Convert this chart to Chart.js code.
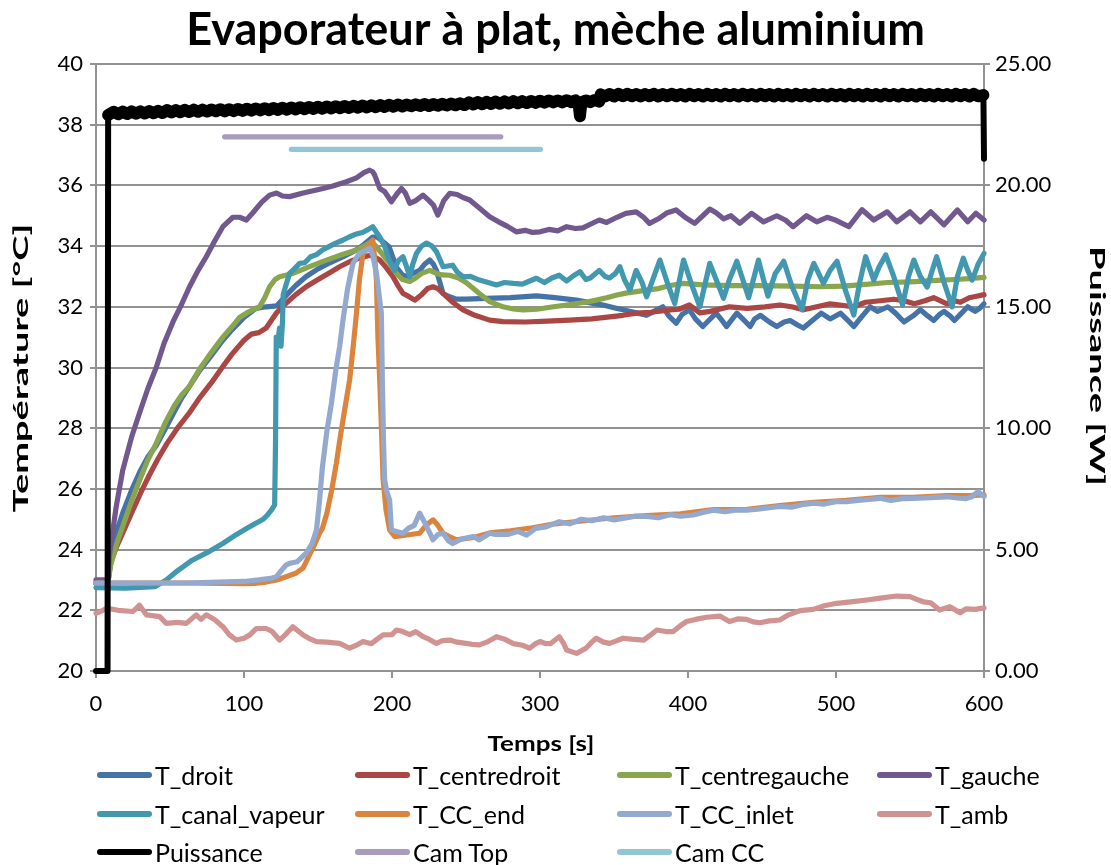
<!DOCTYPE html>
<html>
<head>
<meta charset="utf-8">
<script src="https://cdn.jsdelivr.net/npm/chart.js@4.4.0/dist/chart.umd.min.js"></script>
<style>
  body { margin: 0; background: #fff; }
  #wrap { position: relative; width: 1111px; height: 865px; }
  #legend { position: absolute; left: 97px; top: 756px; display: grid;
    grid-template-columns: 258px 262px 260px 200px; grid-auto-rows: 38.5px;
    font-family: Lato, sans-serif; font-size: 25px; color: #000; }
  .item { display: flex; align-items: center; }
  .swatch { width: 55px; height: 6px; border-radius: 3px; margin-right: 3px; }
</style>
</head>
<body>
<div id="wrap">
  <canvas id="myChart" width="1111" height="865"></canvas>
  <div id="legend"></div>
</div>
<script>
// values, [time s, value]
const T_droit = [[0,22.9],[8,22.9],[10,23.9],[14,24.6],[18,25.2],[24,25.95],[30,26.6],[35,27.05],[41,27.45],[47,28.0],[53,28.55],[58,29.0],[63,29.37],[70,29.9],[78,30.4],[85.7,30.9],[92,31.25],[100,31.65],[108,31.95],[115,32.0],[122,32.03],[128,32.35],[135,32.7],[142,33.0],[150,33.25],[158,33.45],[167,33.65],[175,33.85],[181,34.05],[187,34.3],[190,34.3],[195,34.1],[198,33.98],[203,33.3],[207,33.05],[210,32.99],[214,33.1],[218.7,33.2],[222,33.4],[225.5,33.54],[228,33.4],[230,33.2],[234.5,32.44],[238,32.35],[243.5,32.25],[250,32.25],[263.8,32.28],[280,32.3],[297.6,32.36],[310,32.3],[324.7,32.22],[335,32.12],[342.7,32.06],[350,31.97],[356,31.9],[365,31.8],[372,31.72],[377,31.85],[383,32.0],[387,31.7],[392,31.46],[396,31.75],[401,31.9],[405,31.6],[410,31.35],[414,31.55],[419,31.79],[423,31.55],[426,31.35],[430,31.6],[433,31.79],[438,31.55],[442,31.35],[445,31.6],[449,31.72],[455,31.5],[460,31.35],[465,31.5],[469,31.55],[474,31.4],[478,31.3],[484,31.55],[490,31.79],[496,31.6],[503,31.79],[508,31.55],[512,31.35],[517,31.65],[523,32.0],[528,31.85],[535,32.0],[540,31.8],[546,31.5],[552,31.7],[557,31.9],[562,31.7],[566,31.55],[570,31.75],[573,31.85],[577,31.7],[580,31.55],[585,31.8],[589,32.0],[594,31.85],[597,31.95],[600,32.1]];

const T_centredroit = [[0,22.9],[8,22.9],[10,23.6],[14,24.1],[18,24.54],[24,25.2],[30,25.85],[36,26.45],[42,27.0],[48,27.5],[55,28.0],[63,28.5],[70,29.0],[78,29.5],[85.7,30.03],[92,30.45],[100,30.9],[105,31.1],[110,31.15],[115,31.3],[121.8,31.79],[128,32.1],[135,32.4],[142,32.66],[150,32.9],[157,33.1],[164.6,33.32],[172,33.5],[179,33.62],[185,33.7],[188,33.65],[191.7,33.54],[196,33.3],[200.7,32.99],[204,32.7],[207.4,32.44],[211,32.35],[215.4,32.22],[220,32.4],[224,32.6],[227.7,32.66],[231,32.6],[234.5,32.44],[241,32.15],[248,31.9],[256,31.72],[266,31.56],[275,31.51],[290,31.5],[305,31.53],[320,31.56],[335,31.6],[347,31.67],[356,31.72],[365,31.79],[375,31.82],[388,31.9],[394,31.92],[401,32.06],[408,31.8],[415,31.85],[428,32.0],[440,31.95],[452,32.0],[462,32.06],[470,32.0],[478,31.9],[487,32.0],[496,32.1],[504,32.05],[512,32.0],[520,32.15],[530,32.2],[539,32.25],[546,32.2],[553,32.1],[560,32.2],[566,32.3],[575,32.1],[580,32.2],[584,32.15],[590,32.3],[595,32.35],[600,32.4]];

const T_centregauche = [[0,22.9],[8,22.9],[10,23.5],[14,24.2],[18,24.76],[24,25.6],[30,26.35],[35,26.95],[40.7,27.5],[47,28.2],[53,28.75],[58,29.1],[63,29.37],[70,29.95],[78,30.5],[85.7,31.0],[92,31.35],[97,31.65],[101.6,31.79],[106,31.9],[110.5,32.0],[114,32.3],[117.3,32.66],[121,32.9],[124,32.99],[133,33.1],[143,33.3],[153,33.49],[165,33.7],[176,33.87],[183,34.05],[186,34.15],[190,33.95],[194,33.7],[198.4,33.43],[203,33.1],[207,32.9],[212,32.83],[216,32.95],[220,33.1],[225.5,33.2],[230,33.1],[234,33.05],[239,33.04],[245,32.95],[250,32.8],[254.8,32.61],[259,32.44],[266,32.17],[275,32.0],[282,31.93],[288.6,31.9],[298,31.92],[309,32.0],[317,32.05],[324.7,32.11],[331,32.15],[338,32.22],[345,32.3],[352,32.39],[358,32.45],[365,32.5],[372,32.55],[380,32.6],[388,32.7],[397,32.77],[410,32.72],[430,32.7],[450,32.7],[470,32.68],[490,32.66],[505,32.68],[520,32.74],[535,32.8],[550,32.82],[565,32.86],[580,32.9],[590,32.93],[600,32.97]];

const T_gauche = [[0,23.0],[8,23.0],[9,23.8],[13.6,25.4],[18,26.6],[24,27.7],[29.4,28.5],[35,29.3],[40.7,30.0],[46,30.8],[52,31.5],[58,32.1],[63.2,32.66],[69,33.2],[74.5,33.65],[80,34.15],[85.7,34.64],[92.5,34.95],[97,34.95],[101.6,34.86],[106,35.1],[112,35.45],[117.3,35.68],[122,35.75],[126,35.65],[130.8,35.63],[140,35.75],[153.4,35.9],[160,35.98],[169.2,36.12],[176,36.25],[181,36.42],[184.9,36.5],[187,36.45],[188.3,36.34],[191.7,35.9],[195,35.8],[199.6,35.46],[203,35.7],[206.4,35.9],[209,35.75],[212,35.41],[216,35.5],[221,35.68],[225,35.5],[228,35.35],[231,35.02],[235,35.5],[239,35.74],[244,35.7],[248,35.6],[252.5,35.52],[258,35.3],[266,34.97],[272,34.8],[278,34.65],[284,34.47],[290,34.52],[295,34.45],[300,34.47],[306,34.55],[312,34.5],[318,34.64],[324,34.58],[329,34.6],[334,34.72],[340,34.86],[345,34.78],[352,34.95],[358,35.08],[365,35.13],[370,34.95],[374,34.75],[380,34.9],[386,35.1],[392,35.19],[398,34.95],[404.5,34.75],[410,35.0],[414.7,35.22],[419,35.1],[424,34.9],[429,35.0],[435,34.75],[443,35.08],[451,34.8],[460,35.0],[466,34.85],[471,34.64],[480,35.0],[487,34.8],[494,34.95],[500,34.85],[508.7,34.64],[517.6,35.2],[525.5,34.86],[534.6,35.13],[541,34.8],[550,35.13],[557,34.8],[564,35.13],[573,34.7],[582,35.19],[589,34.8],[594.5,35.08],[600,34.86]];

const T_canal_vapeur = [[0,22.75],[20,22.73],[40,22.78],[47.5,23.0],[55,23.3],[65,23.65],[75,23.9],[85.7,24.2],[95,24.5],[102,24.7],[108,24.87],[113,25.0],[116,25.15],[118.5,25.3],[120.7,25.47],[121.3,27.5],[121.8,31.0],[123,30.9],[124,31.3],[125,30.7],[126,31.5],[126.5,32.4],[128,32.66],[130.8,33.1],[134,33.25],[137.6,33.43],[141,33.45],[145,33.65],[149,33.72],[153,33.87],[158,34.0],[162,34.1],[167,34.2],[171,34.3],[176,34.4],[180,34.45],[184,34.55],[187,34.64],[191.7,34.3],[195,34.0],[198,33.55],[201.8,33.2],[204,33.5],[207.4,33.65],[210,33.3],[212,32.99],[214,33.4],[216.5,33.76],[220,34.0],[223.3,34.1],[227,34.0],[230,33.82],[234.5,33.32],[241,33.37],[244,33.15],[248,32.99],[253,33.0],[259,32.88],[265,32.8],[270.6,32.72],[276,32.8],[282,32.77],[288,32.75],[293,32.85],[297.6,32.94],[303,32.8],[308,32.95],[313,33.04],[318,32.85],[322,33.0],[327,33.16],[331,32.9],[334,32.95],[340,33.2],[344,33.0],[347,32.95],[351,33.1],[354,33.32],[357,32.9],[360.7,32.55],[365,33.2],[369,32.8],[372,32.33],[377,33.0],[381,33.54],[386,32.8],[391,32.11],[397,33.54],[402,32.8],[408,32.0],[414.7,33.43],[419,32.9],[424,32.28],[428,32.9],[433,33.5],[437,32.9],[441,32.3],[447.6,33.54],[451,32.9],[454,32.35],[459,33.1],[464.7,33.5],[470,32.7],[477,31.9],[481,32.9],[485,33.43],[491.5,32.77],[496,33.2],[500.7,33.5],[506,32.6],[512,31.73],[516,32.8],[520,33.65],[525.5,32.88],[529,33.3],[533.6,33.71],[539,33.0],[545,32.06],[549,33.0],[552.6,33.54],[557,33.0],[561.6,32.65],[565,33.2],[568,33.65],[573,32.8],[578.5,32.0],[582,33.0],[586,33.6],[589,33.2],[592,32.88],[596,33.4],[600,33.76]];

const T_CC_end = [[0,22.9],[60,22.9],[100,22.88],[108,22.89],[115,22.93],[122,23.0],[128,23.1],[135,23.22],[140,23.4],[144,23.8],[148,24.2],[151,24.54],[153,24.7],[156,25.2],[159,25.9],[162.4,26.84],[165,27.7],[168,28.6],[171.4,29.6],[174,30.8],[176,31.79],[178,32.9],[180.4,33.76],[184,34.0],[187,34.2],[188.5,33.5],[189.5,32.88],[190.5,31.0],[191.7,29.6],[193,27.8],[194,26.3],[196,25.3],[198.4,24.65],[201.8,24.43],[210,24.48],[218.7,24.54],[223,24.8],[227.7,24.98],[231,24.8],[234.5,24.54],[240,24.4],[243.5,24.32],[255,24.4],[266,24.55],[280,24.62],[295,24.72],[310,24.85],[330,24.95],[350,25.05],[372,25.12],[395,25.18],[417,25.32],[440,25.33],[462,25.45],[485,25.56],[507,25.62],[530,25.72],[552,25.72],[575,25.78],[590,25.78],[600,25.8]];

const T_CC_inlet = [[0,22.9],[60,22.9],[100,22.95],[110,23.0],[118,23.05],[122,23.11],[125,23.3],[128.6,23.5],[131,23.55],[136,23.6],[142,23.88],[146,24.2],[149,24.65],[151,25.6],[153,26.73],[156,27.9],[159,28.8],[162,29.9],[164.6,30.68],[167,31.6],[170,32.6],[173.6,33.43],[178,33.76],[182,33.85],[185,33.93],[187,33.7],[189.5,33.1],[191,32.5],[192.8,31.79],[193.5,29.5],[194.3,27.5],[195,26.3],[196.5,25.9],[198.4,25.63],[199.6,24.65],[203,24.6],[207.4,24.54],[211,24.7],[215,24.8],[218.7,25.2],[222,24.9],[225,24.6],[227.7,24.32],[231,24.5],[234.5,24.54],[238,24.3],[241,24.2],[247,24.35],[254.8,24.43],[259,24.32],[266,24.54],[270,24.5],[278,24.5],[285,24.6],[291,24.48],[297,24.7],[304,24.75],[313,24.92],[320,24.85],[328,25.0],[335,24.95],[343,25.05],[350,24.98],[356,25.03],[364,25.1],[372,25.09],[380,25.05],[388,25.15],[395,25.1],[403.5,25.14],[410,25.22],[417,25.3],[425,25.25],[432,25.3],[439.6,25.3],[447,25.33],[455,25.38],[462,25.42],[470,25.4],[477,25.48],[484.7,25.53],[492,25.5],[500,25.58],[507,25.58],[515,25.62],[522,25.65],[530,25.69],[537,25.62],[545,25.68],[552,25.69],[560,25.7],[567,25.72],[575,25.74],[582,25.7],[588,25.68],[592,25.75],[596,25.91],[600,25.75]];

const T_amb = [[0,21.9],[4,21.98],[7,22.07],[15,22.0],[25,21.96],[29.4,22.17],[34,21.85],[43,21.79],[47.5,21.57],[55,21.6],[61,21.57],[67.7,21.85],[71,21.7],[74.5,21.85],[80,21.7],[85.7,21.46],[90,21.2],[94.8,21.02],[100,21.08],[104,21.19],[108.3,21.4],[115,21.4],[119,21.3],[124,21.02],[128,21.2],[133,21.46],[137,21.3],[140,21.19],[145,21.05],[149,20.97],[156,20.95],[164.6,20.91],[171.4,20.75],[176,20.85],[180.4,20.97],[186,20.9],[190,21.05],[194,21.19],[200,21.2],[203,21.35],[207.4,21.3],[212,21.2],[216,21.3],[221,21.13],[225,21.05],[230,20.91],[234,21.0],[239,21.02],[244,20.95],[250,20.91],[254,20.88],[259,20.86],[264,20.95],[270.6,21.13],[276,21.05],[282,20.9],[288,20.85],[293,20.75],[297,20.9],[300,20.97],[304,20.9],[307,20.9],[313,21.13],[316,20.9],[318,20.69],[324.7,20.58],[331,20.75],[335,20.95],[338,21.08],[343,20.95],[347,20.91],[352,21.0],[356,21.08],[362,21.05],[370,21.02],[375,21.2],[379,21.35],[385,21.3],[390,21.3],[395,21.5],[399,21.63],[405,21.7],[412.6,21.77],[421.5,21.81],[428,21.63],[434,21.72],[439.6,21.7],[444,21.62],[448.6,21.59],[455,21.65],[462,21.68],[468,21.85],[475.7,21.99],[484.7,22.03],[492,22.15],[500.5,22.23],[510,22.28],[520.8,22.34],[530,22.4],[541,22.47],[550,22.45],[555,22.35],[559,22.28],[564,22.25],[570,22.01],[577,22.12],[583.8,21.92],[588,22.05],[594,22.03],[600,22.08]];

const Puissance = [[0,0],[7.8,0],[8.2,22.9],[12,23.03],[15,22.93],[18,23.04],[21,22.94],[24,23.05],[27,22.95],[30,23.05],[33,22.96],[36,23.06],[39,22.97],[42,23.07],[45,22.98],[48,23.1],[51,23.0],[54,23.1],[57,23.01],[60,23.11],[63,23.02],[66,23.12],[69,23.03],[72,23.12],[75,23.04],[78,23.13],[81,23.05],[84,23.14],[87,23.05],[90,23.14],[93,23.06],[96,23.15],[99,23.07],[102,23.16],[105,23.08],[108,23.17],[111,23.09],[114,23.18],[117,23.1],[120,23.19],[123,23.11],[126,23.2],[129,23.12],[132,23.21],[135,23.13],[138,23.22],[141,23.14],[144,23.23],[147,23.15],[150,23.24],[153,23.16],[156,23.25],[159,23.17],[162,23.26],[165,23.18],[168,23.27],[171,23.19],[174,23.28],[177,23.2],[180,23.29],[183,23.21],[186,23.3],[189,23.22],[192,23.31],[195,23.23],[198,23.32],[201,23.24],[204,23.33],[207,23.25],[210,23.33],[213,23.26],[216,23.34],[219,23.27],[222,23.35],[225,23.27],[228,23.35],[231,23.28],[234,23.36],[237,23.29],[240,23.37],[243,23.3],[246,23.38],[249,23.31],[252,23.42],[255,23.33],[258,23.43],[261,23.34],[264,23.44],[267,23.35],[270,23.45],[273,23.36],[276,23.46],[279,23.37],[282,23.47],[285,23.38],[288,23.47],[291,23.39],[294,23.48],[297,23.4],[300,23.49],[303,23.41],[306,23.5],[309,23.42],[312,23.5],[315,23.42],[318,23.51],[321,23.43],[324,23.5],[326,23.4],[327,22.85],[328,23.42],[331,23.5],[334,23.43],[337,23.52],[340,23.45],[341,23.75],[344,23.66],[347,23.76],[350,23.66],[353,23.77],[356,23.67],[359,23.77],[362,23.67],[365,23.76],[368,23.66],[371,23.76],[374,23.67],[377,23.77],[380,23.66],[383,23.76],[386,23.67],[389,23.77],[392,23.67],[395,23.76],[398,23.66],[401,23.77],[404,23.67],[407,23.76],[410,23.66],[413,23.77],[416,23.67],[419,23.76],[422,23.66],[425,23.77],[428,23.67],[431,23.76],[434,23.66],[437,23.77],[440,23.67],[443,23.76],[446,23.66],[449,23.77],[452,23.67],[455,23.76],[458,23.66],[461,23.77],[464,23.67],[467,23.76],[470,23.66],[473,23.77],[476,23.67],[479,23.76],[482,23.66],[485,23.77],[488,23.67],[491,23.76],[494,23.66],[497,23.77],[500,23.67],[503,23.76],[506,23.66],[509,23.77],[512,23.67],[515,23.76],[518,23.66],[521,23.77],[524,23.67],[527,23.76],[530,23.66],[533,23.77],[536,23.67],[539,23.76],[542,23.66],[545,23.77],[548,23.67],[551,23.76],[554,23.66],[557,23.77],[560,23.67],[563,23.76],[566,23.66],[569,23.77],[572,23.67],[575,23.76],[578,23.66],[581,23.77],[584,23.67],[587,23.76],[590,23.66],[593,23.77],[596,23.67],[599.6,23.72],[600,21.1]];

const Cam_Top = [[86.9,37.6],[273.5,37.6]];
const Cam_CC = [[132,37.19],[300.3,37.19]];

const seriesNames = ['T_droit','T_centredroit','T_centregauche','T_gauche','T_canal_vapeur','T_CC_end','T_CC_inlet','T_amb','Puissance','Cam Top','Cam CC'];
const seriesData = [T_droit,T_centredroit,T_centregauche,T_gauche,T_canal_vapeur,T_CC_end,T_CC_inlet,T_amb,Puissance,Cam_Top,Cam_CC];
const colors = ['#4572A7','#AA4643','#89A54E','#71588F','#4198AF','#DB843D','#93A9CF','#D19392','#000000','#A99BBD','#92C5D6'];

const xTicks = [0,100,200,300,400,500,600];
const xTitle = 'Temps [s]';
const yTitle = 'Température [°C]';
const y2Title = 'Puissance [W]';

const font = 'Lato';

const datasets = seriesNames.map((name, i) => {
  const ds = {
    label: name,
    data: seriesData[i].map(p => ({x: p[0], y: p[1]})),
    borderColor: colors[i],
    backgroundColor: colors[i],
    borderWidth: 5.2,
    borderCapStyle: 'round',
    borderJoinStyle: 'round',
    pointRadius: 0,
    tension: 0,
    fill: false,
    yAxisID: 'y',
    order: 20 - i,
    clip: 8
  };
  if (name == 'Puissance') {
    ds.yAxisID = 'y2';
    ds.borderWidth = 12;
    // the noisy plateau looks like a wide band, the jumps are thin
    ds.segment = {
      borderWidth: ctx => (Math.abs(ctx.p1.parsed.y - ctx.p0.parsed.y) > 1 || ctx.p1.parsed.y == 0) ? 6 : 12
    };
  }
  return ds;
});

const gridCol = '#929292';

// axis titles: the original draws them stretched along their length
function stretchedText(ctx, text, x, y, angle, sx) {
  ctx.save();
  ctx.fillStyle = '#000';
  ctx.font = 'bold 20px ' + font;
  ctx.textAlign = 'center';
  ctx.textBaseline = 'middle';
  ctx.translate(x, y);
  ctx.rotate(angle);
  ctx.scale(sx, 1);
  ctx.fillText(text, 0, 0);
  ctx.restore();
}
const axisTitles = {
  id: 'axisTitles',
  afterDraw(chart) {
    const ctx = chart.ctx;
    stretchedText(ctx, yTitle, 22, 368, -Math.PI / 2, 1.9);
    stretchedText(ctx, y2Title, 1096, 366, Math.PI / 2, 1.9);
    stretchedText(ctx, xTitle, 541, 745, 0, 1.3);
  }
};

const myChart = new Chart('myChart', {
  type: 'line',
  data: { datasets: datasets },
  plugins: [axisTitles],
  options: {
    responsive: false,
    animation: false,
    devicePixelRatio: 1,
    layout: { padding: { left: 0, right: 0, top: 0, bottom: 104 } },
    plugins: {
      legend: { display: false },
      tooltip: { enabled: false },
      title: {
        display: true,
        text: 'Evaporateur à plat, mèche aluminium',
        color: '#000',
        font: { family: font, size: 45, weight: 'bold', lineHeight: 1.2 },
        padding: { top: 3, bottom: 7 }
      }
    },
    scales: {
      x: {
        type: 'linear',
        min: 0, max: 600,
        afterBuildTicks: s => { s.ticks = xTicks.map(v => ({value: v})); },
        afterFit: s => { s.height = 90; },
        grid: { drawOnChartArea: false, color: gridCol, lineWidth: 2, tickLength: 7 },
        border: { color: gridCol, width: 2 },
        ticks: { color: '#000', font: { family: font, size: 22 }, padding: 13, maxRotation: 0 },
        title: { display: false }
      },
      y: {
        position: 'left',
        min: 20, max: 40,
        afterFit: s => { s.width = 96; },
        grid: { color: gridCol, lineWidth: 2, tickLength: 6 },
        border: { color: gridCol, width: 2 },
        ticks: { stepSize: 2, color: '#000', font: { family: font, size: 22 }, padding: 7 },
        title: { display: false }
      },
      y2: {
        position: 'right',
        min: 0, max: 25,
        afterFit: s => { s.width = 127; },
        grid: { drawOnChartArea: false, color: gridCol, lineWidth: 2, tickLength: 6 },
        border: { color: gridCol, width: 2 },
        ticks: { stepSize: 5, color: '#000', font: { family: font, size: 22 }, padding: 5,
          callback: v => v.toFixed(2) },
        title: { display: false }
      }
    }
  }
});

// legend in a 4 column grid like the original
const leg = document.getElementById('legend');
seriesNames.forEach((name, i) => {
  const d = document.createElement('div');
  d.className = 'item';
  d.innerHTML = '<span class="swatch" style="background:' + colors[i] + '"></span><span>' + name + '</span>';
  leg.appendChild(d);
});
</script>
</body>
</html>
